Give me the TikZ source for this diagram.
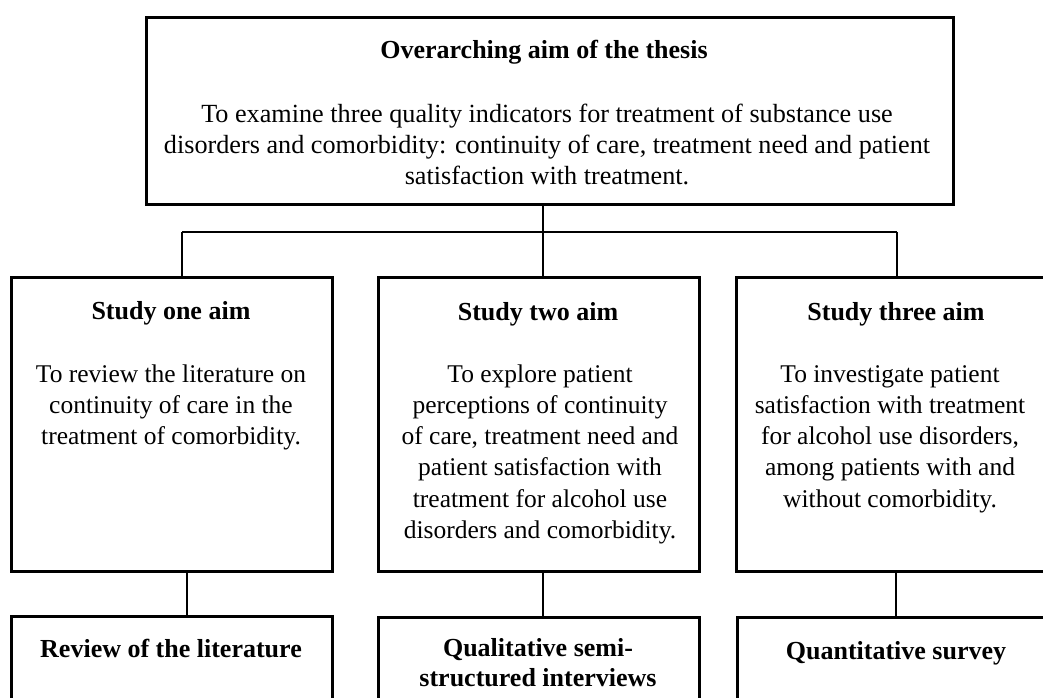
\documentclass[tikz,border=0pt]{standalone}
\usepackage{fontspec}
\setmainfont{Liberation Serif}
\usetikzlibrary{positioning}

\tikzset{
  aimbox/.style={draw, line width=2.8pt, anchor=north west, inner sep=0pt,
    minimum width=321pt, minimum height=294pt},
  headtext/.style={anchor=base, inner sep=0pt, align=flush center, text width=318pt,
    font=\fontsize{26}{30.5}\selectfont\bfseries},
  bodytext/.style={anchor=base, inner sep=0pt, align=flush center, text width=318pt,
    font=\fontsize{25.5}{31.3}\selectfont},
  link/.style={line width=1.7pt}
}

\begin{document}
\begin{tikzpicture}[x=1pt,y=-1pt]
  \useasboundingbox (0,0) rectangle (1043,697);
  \clip (0,0) rectangle (1043,697);

  % thesis aim
  \node[aimbox, minimum width=807pt, minimum height=187pt] (thesis) at (145,16) {};
  \node[headtext, text width=800pt] (thesishead) at (544,58) {Overarching aim of the thesis};
  \node[bodytext, text width=800pt, font=\fontsize{26.2}{31}\selectfont] (thesisbody) at (547,122)
    {To examine three quality indicators for treatment of substance use\\
     disorders and comorbidity: continuity of care, treatment need and patient\\
     satisfaction with treatment.};

  % study aims
  \node[aimbox] (aimone) at (10,276) {};
  \node[aimbox] (aimtwo) at (377,276) {};
  \node[aimbox] (aimthree) at (735,276) {};

  \node[headtext] (onehead) at (171,319) {Study one aim};
  \node[bodytext] (onebody) at (171,382)
    {To review the literature on\\ continuity of care in the\\ treatment of comorbidity.};

  \node[headtext] (twohead) at (538,320) {Study two aim};
  \node[bodytext] (twobody) at (540,382)
    {To explore patient\\ perceptions of continuity\\ of care, treatment need and\\
     patient satisfaction with\\ treatment for alcohol use\\ disorders and comorbidity.};

  \node[headtext] (threehead) at (896,320) {Study three aim};
  \node[bodytext] (threebody) at (890,382)
    {To investigate patient\\ satisfaction with treatment\\ for alcohol use disorders,\\
     among patients with and\\ without comorbidity.};

  % methods
  \node[aimbox, minimum height=150pt] (review) at (10,615) {};
  \node[aimbox, minimum height=150pt] (qual) at (377,616) {};
  \node[aimbox, minimum height=150pt] (quant) at (736,616) {};

  \node[headtext] (reviewhead) at (171,657) {Review of the literature};
  \node[headtext] (qualhead) at (538,656) {Qualitative semi-\\ structured interviews};
  \node[headtext] (quanthead) at (896,659) {Quantitative survey};

  % connectors
  \coordinate (busl) at (182,232);
  \coordinate (busm) at (543,232);
  \coordinate (busr) at (897,232);
  \draw[link] (busl) -- (busr);
  \draw[link] (thesis.south -| busm) -- (aimtwo.north -| busm);
  \draw[link] (busl) -- (aimone.north -| busl);
  \draw[link] (busr) -- (aimthree.north -| busr);
  \draw[link] ([xshift=15pt]aimone.south) -- ([xshift=15pt]aimone.south |- review.north);
  \draw[link] ([xshift=4pt]aimtwo.south) -- ([xshift=4pt]aimtwo.south |- qual.north);
  \draw[link] ([xshift=-1pt]aimthree.south) -- ([xshift=-1pt]aimthree.south |- quant.north);
\end{tikzpicture}
\end{document}
